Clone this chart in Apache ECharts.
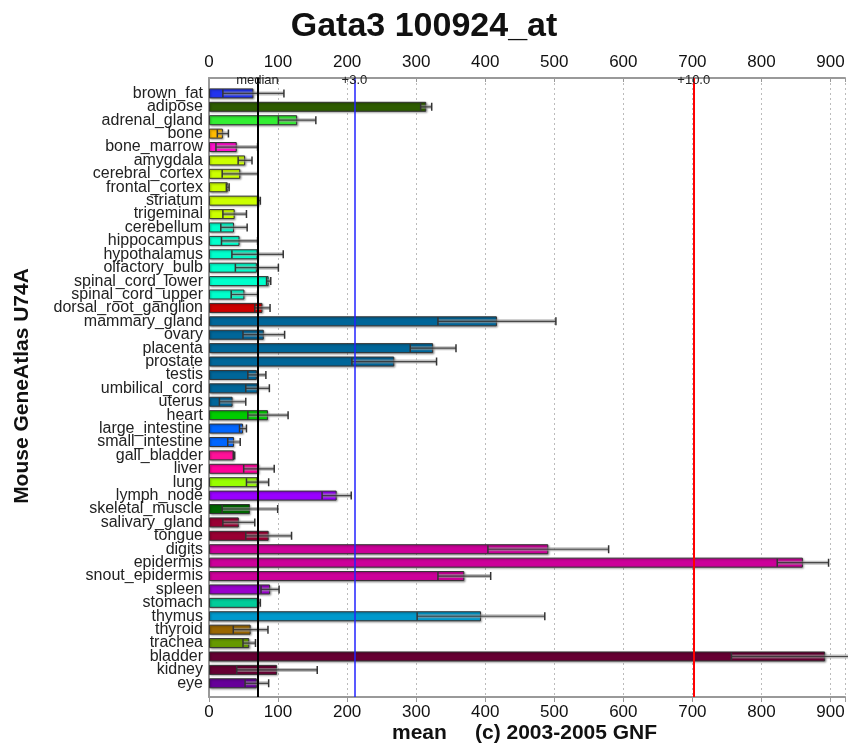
<!DOCTYPE html>
<html>
<head>
<meta charset="utf-8">
<script src="https://cdn.jsdelivr.net/npm/echarts@6/dist/echarts.min.js"></script>
<style>
  html, body { margin: 0; padding: 0; background: #fff; }
  #chart { width: 848px; height: 746px; }
</style>
</head>
<body>
<div id="chart"></div>
<script>
// Tissue expression profile for Gata3 (probe 100924_at), mean with standard deviation
const categories = [
  'brown_fat', 'adipose', 'adrenal_gland', 'bone', 'bone_marrow', 'amygdala',
  'cerebral_cortex', 'frontal_cortex', 'striatum', 'trigeminal', 'cerebellum',
  'hippocampus', 'hypothalamus', 'olfactory_bulb', 'spinal_cord_lower',
  'spinal_cord_upper', 'dorsal_root_ganglion', 'mammary_gland', 'ovary',
  'placenta', 'prostate', 'testis', 'umbilical_cord', 'uterus', 'heart',
  'large_intestine', 'small_intestine', 'gall_bladder', 'liver', 'lung',
  'lymph_node', 'skeletal_muscle', 'salivary_gland', 'tongue', 'digits',
  'epidermis', 'snout_epidermis', 'spleen', 'stomach', 'thymus', 'thyroid',
  'trachea', 'bladder', 'kidney', 'eye'
];

const means = [
  64, 313, 127, 20, 40, 52,
  45, 27, 72, 37, 36,
  44, 70, 69, 86,
  51, 77, 415, 79,
  323, 267, 69, 70, 34, 85,
  49, 36, 36, 72, 70,
  184, 59, 43, 86, 489,
  856, 368, 88, 72, 392, 60,
  58, 888, 98, 69
];

const sds = [
  44, 8, 27, 8, 30, 10,
  26, 2, 2, 17, 19,
  26, 37, 31, 3,
  19, 11, 85, 30,
  33, 61, 13, 17, 19, 29,
  5, 9, 1, 22, 16,
  21, 40, 23, 33, 87,
  37, 38, 13, 2, 92, 25,
  9, 135, 58, 17
];

const barColors = [
  '#2233ee', '#2e5c00', '#33ee33', '#ffbb00', '#ff11cc', '#ccff00',
  '#ccff00', '#ccff00', '#ccff00', '#ccff00', '#00ffcc',
  '#00ffcc', '#00ffcc', '#00ffcc', '#00ffcc',
  '#00ffcc', '#cc0000', '#006699', '#006699',
  '#006699', '#006699', '#006699', '#006699', '#006699', '#00cc00',
  '#0066ff', '#0066ff', '#ff1199', '#ff0099', '#99ff00',
  '#9900ff', '#006600', '#990033', '#990033', '#cc0099',
  '#cc0099', '#cc0099', '#9900cc', '#00cc99', '#0099cc', '#996600',
  '#669900', '#660033', '#660033', '#660099'
];

const medianValue = 70.2;
const xMax = 921;
const tickStep = 100;

const FONT = "'Liberation Sans', Arial, sans-serif";

const barData = means.map((m, i) => ({
  value: m,
  itemStyle: { color: barColors[i] }
}));

const errorData = means.map((m, i) => [i, m - sds[i], m + sds[i]]);

const chart = echarts.init(document.getElementById('chart'), null, { renderer: 'canvas' });

const option = {
  animation: false,
  backgroundColor: '#fff',
  title: {
    text: 'Gata3 100924_at',
    left: 'center',
    top: 5,
    textStyle: { fontFamily: FONT, fontSize: 34, fontWeight: 'bold', color: '#111' }
  },
  grid: [
    // frame: axes, grid lines, reference lines
    { left: 209, right: 0, top: 78, bottom: 49, containLabel: false },
    // bars
    { left: 209, right: 0, top: 86.7, bottom: 56, containLabel: false }
  ],
  xAxis: [
    {
      gridIndex: 0, type: 'value', position: 'bottom', min: 0, max: xMax, interval: tickStep,
      axisLine: { show: true, lineStyle: { color: '#999', width: 2 } },
      axisTick: { show: true, length: 5, lineStyle: { color: '#999' } },
      axisLabel: {
        margin: 7, fontFamily: FONT, fontSize: 17, color: '#111',
        formatter: v => (v > 900 ? '' : String(v))
      },
      splitLine: { show: true, lineStyle: { color: '#bbb', type: [2, 3], width: 1 } }
    },
    {
      gridIndex: 0, type: 'value', position: 'top', min: 0, max: xMax, interval: tickStep,
      axisLine: { show: true, lineStyle: { color: '#999', width: 2 } },
      axisTick: { show: true, inside: true, length: 4, lineStyle: { color: '#999' } },
      axisLabel: {
        margin: 7, fontFamily: FONT, fontSize: 17, color: '#111',
        formatter: v => (v > 900 ? '' : String(v))
      },
      splitLine: { show: false }
    },
    {
      gridIndex: 1, type: 'value', min: 0, max: xMax, show: false
    }
  ],
  yAxis: [
    {
      gridIndex: 0, type: 'value', min: 0, max: 1,
      axisLine: { show: true, lineStyle: { color: '#999', width: 2 } },
      axisTick: { show: false }, axisLabel: { show: false }, splitLine: { show: false }
    },
    {
      gridIndex: 1, type: 'category', data: categories, inverse: true,
      axisLine: { show: false }, axisTick: { show: false },
      axisLabel: {
        interval: 0, margin: 6, fontFamily: FONT, fontSize: 16, color: '#222'
      }
    }
  ],
  graphic: [
    {
      type: 'text', x: 22, y: 386, rotation: Math.PI / 2,
      style: {
        text: 'Mouse GeneAtlas U74A', fontFamily: FONT, fontSize: 21, fontWeight: 'bold',
        fill: '#111', textAlign: 'center', textVerticalAlign: 'middle'
      }
    },
    {
      type: 'text', x: 392, y: 733,
      style: {
        text: 'mean', fontFamily: FONT, fontSize: 21, fontWeight: 'bold',
        fill: '#111', textAlign: 'left', textVerticalAlign: 'middle'
      }
    },
    {
      type: 'text', x: 475, y: 733,
      style: {
        text: '(c) 2003-2005 GNF', fontFamily: FONT, fontSize: 21, fontWeight: 'bold',
        fill: '#111', textAlign: 'left', textVerticalAlign: 'middle'
      }
    }
  ],
  series: [
    {
      type: 'bar',
      xAxisIndex: 2, yAxisIndex: 1,
      data: barData,
      barWidth: 10,
      z: 2,
      itemStyle: {
        borderColor: '#333', borderWidth: 1,
        shadowColor: 'rgba(0,0,0,0.35)', shadowBlur: 2, shadowOffsetX: 1, shadowOffsetY: 1
      }
    },
    {
      type: 'custom',
      xAxisIndex: 2, yAxisIndex: 1,
      data: errorData,
      encode: { x: [1, 2], y: 0 },
      clip: true,
      z: 3,
      renderItem: function (params, api) {
        const idx = api.value(0);
        const lo = api.coord([api.value(1), idx]);
        const hiVal = Math.min(api.value(2), xMax);
        const hi = api.coord([hiVal, idx]);
        const y = lo[1];
        const cap = 8;
        const children = [
          // soft halo under the whisker
          {
            type: 'line',
            shape: { x1: lo[0], y1: y, x2: hi[0], y2: y },
            style: { stroke: 'rgba(150,150,150,0.6)', lineWidth: 4 }
          },
          {
            type: 'line',
            shape: { x1: lo[0], y1: y, x2: hi[0], y2: y },
            style: { stroke: 'rgba(50,50,50,0.85)', lineWidth: 1.2 }
          },
          {
            type: 'line',
            shape: { x1: lo[0], y1: y - cap / 2, x2: lo[0], y2: y + cap / 2 },
            style: { stroke: '#333', lineWidth: 1.5 }
          }
        ];
        if (api.value(2) <= xMax) {
          children.push({
            type: 'line',
            shape: { x1: hi[0], y1: y - cap / 2, x2: hi[0], y2: y + cap / 2 },
            style: { stroke: '#333', lineWidth: 1.5 }
          });
        }
        return { type: 'group', children: children };
      }
    },
    {
      type: 'line',
      xAxisIndex: 0, yAxisIndex: 0,
      data: [],
      z: 5,
      markLine: {
        silent: true,
        symbol: ['none', 'none'],
        label: {
          position: 'end', distance: -9,
          fontFamily: FONT, fontSize: 13, color: '#222'
        },
        data: [
          { xAxis: medianValue, lineStyle: { color: '#000', width: 2, type: 'solid' }, label: { formatter: 'median' } },
          { xAxis: medianValue * 3, lineStyle: { color: '#2222ff', width: 1.5, type: 'solid' }, label: { formatter: '+3.0' } },
          { xAxis: medianValue * 10, lineStyle: { color: '#ff0000', width: 2, type: 'solid' }, label: { formatter: '+10.0' } }
        ]
      }
    }
  ]
};

chart.setOption(option);
</script>
</body>
</html>
